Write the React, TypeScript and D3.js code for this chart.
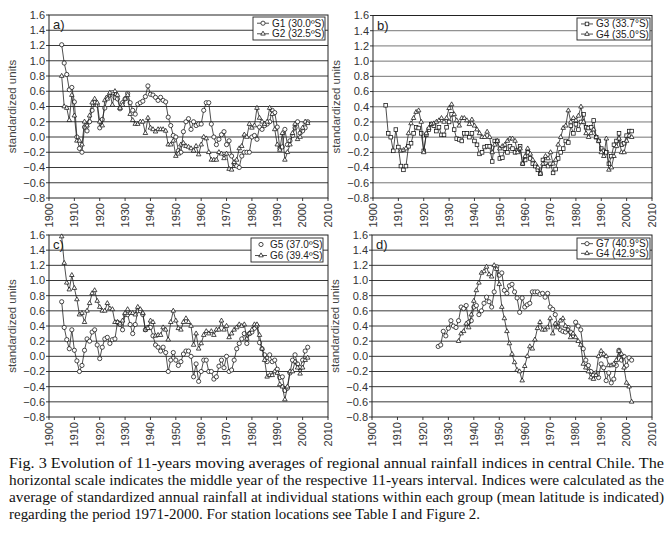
import React from "react";
import * as d3 from "d3";

const G1_START = 1905;
const G1 = [1.21, 0.97, 0.82, 0.62, 0.65,
  0.46, 0.0, -0.15, -0.2, 0.13, 0.08, 0.2, 0.35, 0.45, 0.42,
  0.12, 0.23, 0.38, 0.52, 0.55, 0.58, 0.52, 0.5, 0.37, 0.45,
  0.5, 0.57, 0.45, 0.35, 0.3, 0.43, 0.45, 0.47, 0.53, 0.67,
  0.56, 0.55, 0.52, 0.48, 0.52, 0.48, 0.46, 0.26, 0.15, 0.02,
  0.0, -0.18, -0.2, 0.07, 0.2, 0.24, 0.1, 0.2, 0.15, 0.17,
  0.17, 0.35, 0.45, 0.45, 0.17, 0.0, -0.1, -0.03, 0.03, 0.07,
  -0.1, -0.05, -0.25, -0.35, -0.38, -0.4, -0.25, -0.2, -0.2, -0.2,
  0.0, 0.02, -0.03, 0.13, 0.1, 0.15, 0.17, 0.2, 0.35, 0.32,
  0.13, -0.15, -0.13, 0.1, -0.1, -0.05, 0.02, 0.12, 0.2, 0.05,
  0.08, 0.12, 0.2];
const G2_START = 1905;
const G2 = [0.8, 0.4, 0.38, 0.22, 0.55,
  0.28, -0.05, -0.05, -0.1, 0.2, 0.15, 0.28, 0.45, 0.5, 0.45,
  0.2, 0.15, 0.48, 0.5, 0.58, 0.42, 0.6, 0.55, 0.38, 0.42,
  0.5, 0.55, 0.3, 0.22, 0.17, 0.17, 0.2, 0.2, 0.05, 0.25,
  0.12, 0.1, 0.07, 0.1, 0.1, 0.1, 0.08, -0.1, -0.1, -0.05,
  -0.25, -0.22, -0.1, -0.08, -0.12, -0.13, -0.15, -0.18, -0.12, -0.23,
  -0.1, 0.0, -0.02, -0.2, -0.3, -0.3, -0.3, -0.2, -0.22, -0.28,
  -0.22, -0.42, -0.43, -0.33, -0.3, -0.15, -0.12, 0.03, 0.0, 0.17,
  0.12, 0.15, 0.38, 0.25, 0.2, 0.17, 0.2, 0.38, 0.3, 0.1,
  -0.1, -0.17, 0.05, -0.3, -0.2, -0.1, 0.05, 0.17, -0.03, 0.0,
  0.12, 0.2, 0.18];
const G3_START = 1905;
const G3 = [0.42, 0.05, 0.0, -0.18, 0.1,
  -0.13, -0.38, -0.43, -0.38, -0.12, -0.08, 0.05, 0.13, 0.12, 0.05,
  -0.18, 0.03, 0.1, 0.17, 0.15, 0.08, 0.13, 0.03, 0.03, 0.13,
  0.2, 0.3, 0.1, -0.02, -0.03, -0.05, 0.05, 0.05, 0.0, 0.05,
  -0.05, -0.1, -0.22, -0.2, -0.13, -0.12, -0.12, -0.32, -0.05, -0.05,
  -0.28, -0.27, -0.15, -0.2, -0.12, -0.15, -0.2, -0.17, -0.12, -0.35,
  -0.3, -0.2, -0.28, -0.35, -0.38, -0.43, -0.48, -0.3, -0.35, -0.38,
  -0.35, -0.47, -0.42, -0.28, -0.2, -0.15, -0.05, -0.07, 0.15, 0.05,
  0.17, 0.1, 0.2, 0.3, 0.13, 0.12, 0.13, 0.22, 0.0, -0.05,
  -0.15, -0.18, -0.2, -0.35, -0.25, -0.1, -0.05, 0.05, -0.1, -0.08,
  0.02, 0.08, 0.08];
const G4B_START = 1911;
const G4B = [-0.18, -0.17, -0.15, 0.05, 0.18, 0.25, 0.33, 0.35, 0.2,
  -0.2, 0.05, 0.12, 0.17, 0.18, 0.2, 0.22, 0.25, 0.2, 0.25,
  0.38, 0.43, 0.3, 0.22, 0.15, 0.25, 0.25, 0.22, 0.17, 0.23,
  0.15, 0.1, 0.05, 0.0, 0.0, 0.07, 0.0, -0.2, -0.1, -0.05,
  -0.15, -0.12, -0.1, -0.05, -0.02, -0.02, -0.05, -0.2, -0.15, -0.35,
  -0.25, -0.15, -0.22, -0.3, -0.35, -0.4, -0.48, -0.35, -0.25, -0.28,
  -0.2, -0.35, -0.3, -0.1, 0.0, 0.12, 0.15, 0.35, 0.2, 0.25,
  0.22, 0.28, 0.4, 0.2, 0.05, 0.0, 0.05, 0.1, 0.0, -0.05,
  -0.2, -0.25, -0.02, -0.43, -0.4, -0.25, -0.12, -0.02, -0.2, -0.2,
  -0.05, 0.02, 0.0];
const G5_START = 1905;
const G5 = [0.72, 0.38, 0.22, 0.1, 0.35,
  0.08, -0.06, -0.2, -0.12, 0.08, 0.23, 0.2, 0.32, 0.35, 0.15,
  -0.03, 0.12, 0.23, 0.25, 0.17, 0.22, 0.23, 0.45, 0.42, 0.35,
  0.55, 0.55, 0.42, 0.3, 0.42, 0.6, 0.6, 0.55, 0.35, 0.38,
  0.38, 0.27, 0.15, 0.12, 0.07, 0.12, 0.05, -0.2, -0.05, 0.05,
  -0.05, -0.12, -0.07, 0.03, 0.07, 0.07, 0.0, -0.27, -0.1, -0.33,
  -0.2, -0.05, -0.05, -0.2, -0.2, -0.3, -0.27, -0.13, -0.05, -0.15,
  0.0, -0.2, -0.18, -0.05, 0.1, 0.17, 0.23, 0.3, 0.17, 0.3,
  0.32, 0.37, 0.4, 0.18, 0.1, 0.02, -0.07, 0.02, -0.07, -0.05,
  -0.17, -0.28, -0.27, -0.45, -0.42, -0.22, -0.05, 0.02, -0.1, -0.15,
  -0.05, 0.07, 0.12];
const G6_START = 1905;
const G6 = [1.58, 1.23, 0.97, 0.88, 1.07,
  0.9, 0.75, 0.55, 0.57, 0.45, 0.6, 0.7, 0.83, 0.87, 0.73,
  0.65, 0.6, 0.6, 0.7, 0.63, 0.62, 0.45, 0.45, 0.43, 0.47,
  0.57, 0.62, 0.57, 0.57, 0.55, 0.65, 0.62, 0.57, 0.35, 0.37,
  0.47, 0.45, 0.27, 0.28, 0.28, 0.38, 0.35, 0.22, 0.45, 0.6,
  0.47, 0.37, 0.35, 0.45, 0.5, 0.45, 0.4, 0.15, 0.3, 0.1,
  0.17, 0.28, 0.33, 0.3, 0.33, 0.28, 0.35, 0.35, 0.47, 0.35,
  0.4, 0.25, 0.3, 0.35, 0.38, 0.42, 0.4, 0.42, 0.23, 0.3,
  0.35, 0.42, 0.42, 0.28, 0.1, -0.05, -0.27, -0.25, -0.25, -0.2,
  -0.22, -0.37, -0.4, -0.57, -0.4, -0.2, -0.2, -0.07, -0.15, -0.23,
  -0.15, -0.05, -0.02];
const G7_START = 1926;
const G7 = [0.13, 0.15, 0.33, 0.27,
  0.37, 0.47, 0.4, 0.38, 0.47, 0.65, 0.63, 0.67, 0.45, 0.47,
  0.65, 0.67, 0.55, 0.6, 0.7, 0.78, 0.72, 0.65, 0.85, 1.18,
  1.07, 1.1, 0.87, 0.83, 0.93, 0.95, 0.85, 0.77, 0.58, 0.77,
  0.65, 0.68, 0.7, 0.85, 0.85, 0.85, 0.82, 0.83, 0.78, 0.83,
  0.65, 0.62, 0.55, 0.4, 0.35, 0.33, 0.32, 0.38, 0.32, 0.27,
  0.45, 0.4, 0.35, 0.1, -0.05, -0.12, -0.2, -0.25, -0.22, -0.28,
  -0.1, -0.15, -0.32, -0.22, -0.35, -0.3, -0.12, 0.08, -0.05, 0.0,
  -0.12, -0.02, -0.05];
const G4D_START = 1934;
const G4D = [0.2, 0.3, 0.33, 0.43, 0.38, 0.55,
  0.73, 0.87, 0.97, 1.1, 1.12, 1.18, 1.08, 1.05, 1.2, 1.15,
  0.95, 0.65, 0.5, 0.33, 0.17, 0.03, -0.08, -0.18, -0.2, -0.32,
  -0.13, 0.0, 0.13, 0.1, 0.22, 0.37, 0.45, 0.35, 0.35, 0.38,
  0.5, 0.3, 0.43, 0.38, 0.47, 0.5, 0.4, 0.35, 0.25, 0.3,
  0.25, 0.2, 0.15, -0.1, -0.15, -0.2, -0.28, -0.3, -0.25, 0.0,
  0.07, 0.03, 0.0, -0.12, -0.12, -0.1, -0.05, 0.07, 0.03, -0.15,
  -0.35, -0.4, -0.6];

const X_TICKS = [1900, 1910, 1920, 1930, 1940, 1950, 1960, 1970, 1980, 1990, 2000, 2010];
const Y_TICKS = [-0.8, -0.6, -0.4, -0.2, 0.0, 0.2, 0.4, 0.6, 0.8, 1.0, 1.2, 1.4, 1.6];

const CAPTION = [
  "Fig. 3 Evolution of 11-years moving averages of regional annual rainfall indices in central Chile. The",
  "horizontal scale indicates the middle year of the respective 11-years interval. Indices were calculated as the",
  "average of standardized annual rainfall at individual stations within each group (mean latitude is indicated)",
  "regarding the period 1971-2000. For station locations see Table I and Figure 2.",
];

type Marker = "circle" | "triangle" | "square";
type Series = { name: string; start: number; values: number[]; marker: Marker; legendLine: boolean };
type Panel = {
  label: string; x0: number; x1: number; y0: number; y1: number; grid: string;
  series: Series[]; legend: { x: number; y: number; w: number; h: number };
};

const PANELS: Panel[] = [
  { label: "a)", x0: 49, x1: 328, y0: 15, y1: 198, grid: "#222",
    series: [
      { name: "G1 (30.0ºS)", start: G1_START, values: G1, marker: "circle", legendLine: true },
      { name: "G2 (32.5ºS)", start: G2_START, values: G2, marker: "triangle", legendLine: true },
    ], legend: { x: 253, y: 17, w: 72, h: 23 } },
  { label: "b)", x0: 373, x1: 652, y0: 15.5, y1: 198, grid: "#666",
    series: [
      { name: "G3 (33.7°S)", start: G3_START, values: G3, marker: "square", legendLine: true },
      { name: "G4 (35.0°S)", start: G4B_START, values: G4B, marker: "triangle", legendLine: true },
    ], legend: { x: 577, y: 18, w: 73, h: 22 } },
  { label: "c)", x0: 49, x1: 328, y0: 235, y1: 417, grid: "#222",
    series: [
      { name: "G5 (37.0ºS)", start: G5_START, values: G5, marker: "circle", legendLine: false },
      { name: "G6 (39.4ºS)", start: G6_START, values: G6, marker: "triangle", legendLine: true },
    ], legend: { x: 251, y: 238, w: 72, h: 24 } },
  { label: "d)", x0: 372, x1: 652, y0: 235, y1: 417, grid: "#222",
    series: [
      { name: "G7 (40.9°S)", start: G7_START, values: G7, marker: "circle", legendLine: true },
      { name: "G4 (42.9°S)", start: G4D_START, values: G4D, marker: "triangle", legendLine: true },
    ], legend: { x: 577, y: 238, w: 73, h: 21 } },
];

function MarkerShape({ type, x, y }: { type: Marker; x: number; y: number }) {
  const common = { fill: "#fff", stroke: "#111", strokeWidth: 0.75 };
  if (type === "circle") return <circle cx={x} cy={y} r={2.1} {...common} />;
  if (type === "square") return <rect x={x - 1.8} y={y - 1.8} width={3.6} height={3.6} {...common} />;
  const s = d3.symbol().type(d3.symbolTriangle).size(9)();
  return <path d={s || ""} transform={`translate(${x},${y})`} {...common} />;
}

function fmt(v: number) {
  const s = Math.abs(v).toFixed(1);
  return v < -1e-9 ? "\u2212" + s : s;
}

function PanelView({ p }: { p: Panel }) {
  const x = d3.scaleLinear().domain([1900, 2010]).range([p.x0, p.x1]);
  const y = d3.scaleLinear().domain([-0.8, 1.6]).range([p.y1, p.y0]);
  const line = d3.line<[number, number]>().x((d) => x(d[0])).y((d) => y(d[1]));
  const font = "'Liberation Sans', Arial, sans-serif";
  return (
    <g>
      {Y_TICKS.map((t) => (
        <g key={t}>
          {t > -0.8 && t < 1.6 && (
            <line x1={p.x0} x2={p.x1} y1={y(t)} y2={y(t)} stroke={p.grid} strokeWidth={0.9} />
          )}
          <line x1={p.x0 - 3} x2={p.x0} y1={y(t)} y2={y(t)} stroke="#222" strokeWidth={0.9} />
          <text x={p.x0 - 4} y={y(t)} dy="0.35em" textAnchor="end" fontSize={11} fontFamily={font} fill="#333">
            {fmt(t)}
          </text>
        </g>
      ))}
      {X_TICKS.map((t) => (
        <g key={t}>
          <line x1={x(t)} x2={x(t)} y1={p.y1} y2={p.y1 + 3} stroke="#222" strokeWidth={0.9} />
          <text transform={`translate(${x(t)},${p.y1 + 5}) rotate(-90)`} dy="0.35em" textAnchor="end"
            fontSize={11} fontFamily={font} fill="#333">{t}</text>
        </g>
      ))}
      <rect x={p.x0} y={p.y0} width={p.x1 - p.x0} height={p.y1 - p.y0} fill="none" stroke="#222" strokeWidth={1} />
      <text transform={`translate(${p.x0 - 37},${(p.y0 + p.y1) / 2}) rotate(-90)`} textAnchor="middle"
        dy="0.35em" fontSize={11.5} fontFamily={font} fill="#444">standardized units</text>
      <text x={p.x0 + 4} y={p.y0 + 14} fontSize={13} fontFamily={font} fill="#222">{p.label}</text>
      {p.series.map((s, si) => {
        const pts: [number, number][] = s.values.map((v, i) => [s.start + i, v]);
        return (
          <g key={si}>
            <path d={line(pts) || ""} fill="none" stroke="#222" strokeWidth={0.8} />
            {pts.map((d, i) => <MarkerShape key={i} type={s.marker} x={x(d[0])} y={y(d[1])} />)}
          </g>
        );
      })}
      <rect x={p.legend.x} y={p.legend.y} width={p.legend.w} height={p.legend.h} fill="#fff" stroke="#222" strokeWidth={0.9} />
      {p.series.map((s, si) => {
        const ly = p.legend.y + p.legend.h * (si === 0 ? 0.27 : 0.73);
        const lx = p.legend.x + 4;
        return (
          <g key={si}>
            {s.legendLine && <line x1={lx} x2={lx + 12} y1={ly} y2={ly} stroke="#222" strokeWidth={0.8} />}
            <MarkerShape type={s.marker} x={lx + 6} y={ly} />
            <text x={lx + 15} y={ly} dy="0.35em" fontSize={10} fontFamily={font} fill="#222">{s.name}</text>
          </g>
        );
      })}
    </g>
  );
}

export default function App() {
  const serif = "'Liberation Serif', 'Times New Roman', serif";
  const baselines = [467.5, 484.8, 502, 519];
  const lengths = [655, 655, 655, 471];
  return (
    <svg width={671} height={537} style={{ position: "absolute", left: 0, top: 0, background: "#fff" }}>
      <rect width={671} height={537} fill="#fff" />
      {PANELS.map((p, i) => <PanelView key={i} p={p} />)}
      {CAPTION.map((c, i) => (
        <text key={i} x={9} y={baselines[i]} fontSize={14.6} fontFamily={serif} fill="#111"
          textLength={lengths[i]} lengthAdjust="spacingAndGlyphs">{c}</text>
      ))}
    </svg>
  );
}
